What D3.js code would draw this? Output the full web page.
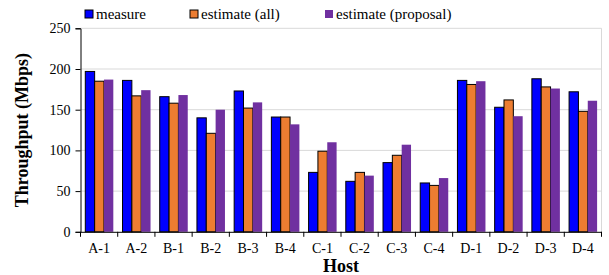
<!DOCTYPE html>
<html>
<head>
<meta charset="utf-8">
<script src="https://cdn.jsdelivr.net/npm/d3@7"></script>
<style>
  body { margin: 0; background: #fff; }
</style>
</head>
<body>
<svg width="609" height="275"></svg>
<script>
const hosts = ["A-1", "A-2", "B-1", "B-2", "B-3", "B-4", "C-1", "C-2", "C-3", "C-4", "D-1", "D-2", "D-3", "D-4"];
const measure = [197, 186, 166, 140, 173, 141, 73, 62, 85, 60, 186, 153, 188, 172];
const estimateAll = [185, 167, 158, 121, 152, 141, 99, 73, 94, 57, 181, 162, 178, 148];
const estimateProposal = [187, 174, 168, 150, 159, 132, 110, 69, 107, 66, 185, 142, 176, 161];
const seriesNames = ["measure", "estimate (all)", "estimate (proposal)"];
const yTicks = [0, 50, 100, 150, 200, 250];

const colors = ["#0000ff", "#ed7d31", "#7030a0"];
const strokes = ["#000", "#000", "none"];
const FONT = "'Liberation Serif', 'Times New Roman', serif";

const svg = d3.select("svg");
const plotL = 80.5, plotR = 601.5, plotT = 28.3, plotB = 231.8;

const x = d3.scaleBand().domain(hosts).range([plotL, plotR]);
const y = d3.scaleLinear().domain([0, 250]).range([plotB, plotT]);
const inner = d3.scaleBand().domain([0, 1, 2]).range([4.8, x.bandwidth() - 4.4]);

// gridlines
svg.append("g").selectAll("line").data(yTicks.filter(d => d > 0)).join("line")
  .attr("x1", plotL).attr("x2", plotR)
  .attr("y1", d => y(d)).attr("y2", d => y(d))
  .attr("stroke", "#d9d9d9").attr("stroke-width", 1);

// right border
svg.append("line")
  .attr("x1", plotR).attr("x2", plotR).attr("y1", plotT).attr("y2", plotB)
  .attr("stroke", "#d9d9d9");

// bars
const series = [measure, estimateAll, estimateProposal];
series.forEach((vals, si) => {
  svg.append("g").selectAll("rect").data(vals).join("rect")
    .attr("x", (d, i) => x(hosts[i]) + inner(si))
    .attr("width", inner.bandwidth())
    .attr("y", d => y(d))
    .attr("height", d => y(0) - y(d))
    .attr("fill", colors[si])
    .attr("stroke", strokes[si])
    .attr("stroke-width", 1);
});

// y axis
const yAxis = svg.append("g")
  .attr("transform", `translate(${plotL},0)`)
  .call(d3.axisLeft(y).tickValues(yTicks).tickSize(5).tickPadding(5));
yAxis.attr("font-family", FONT);
yAxis.select(".domain").attr("stroke", "#000");
yAxis.selectAll("text").attr("font-size", 14).attr("fill", "#000");

// x axis
const xAxis = svg.append("g")
  .attr("transform", `translate(0,${plotB})`)
  .call(d3.axisBottom(x).tickSize(0).tickPadding(11));
xAxis.attr("font-family", FONT);
xAxis.select(".domain").attr("stroke", "#000");
xAxis.selectAll("text").attr("font-size", 14).attr("fill", "#000");
// ticks at band boundaries
svg.append("g").selectAll("line").data(hosts.concat(["end"])).join("line")
  .attr("x1", (d, i) => plotL + i * x.bandwidth())
  .attr("x2", (d, i) => plotL + i * x.bandwidth())
  .attr("y1", plotB).attr("y2", plotB + 5)
  .attr("stroke", "#000");

// axis titles
svg.append("text")
  .attr("transform", `translate(28,${(plotT + plotB) / 2}) rotate(-90)`)
  .attr("text-anchor", "middle")
  .attr("font-family", FONT)
  .attr("font-size", 18).attr("font-weight", "bold")
  .text("Throughput (Mbps)");

svg.append("text")
  .attr("x", (plotL + plotR) / 2).attr("y", 272)
  .attr("text-anchor", "middle")
  .attr("font-family", FONT)
  .attr("font-size", 18).attr("font-weight", "bold")
  .text("Host");

// legend
const legendX = [85, 190, 325];
const legend = svg.append("g").selectAll("g").data(seriesNames).join("g")
  .attr("transform", (d, i) => `translate(${legendX[i]},10)`);
legend.append("rect")
  .attr("width", 8).attr("height", 8)
  .attr("fill", (d, i) => colors[i])
  .attr("stroke", (d, i) => strokes[i]);
legend.append("text")
  .attr("x", 11).attr("y", 8.5)
  .attr("font-family", FONT)
  .attr("font-size", 15)
  .text(d => d);
</script>
</body>
</html>
